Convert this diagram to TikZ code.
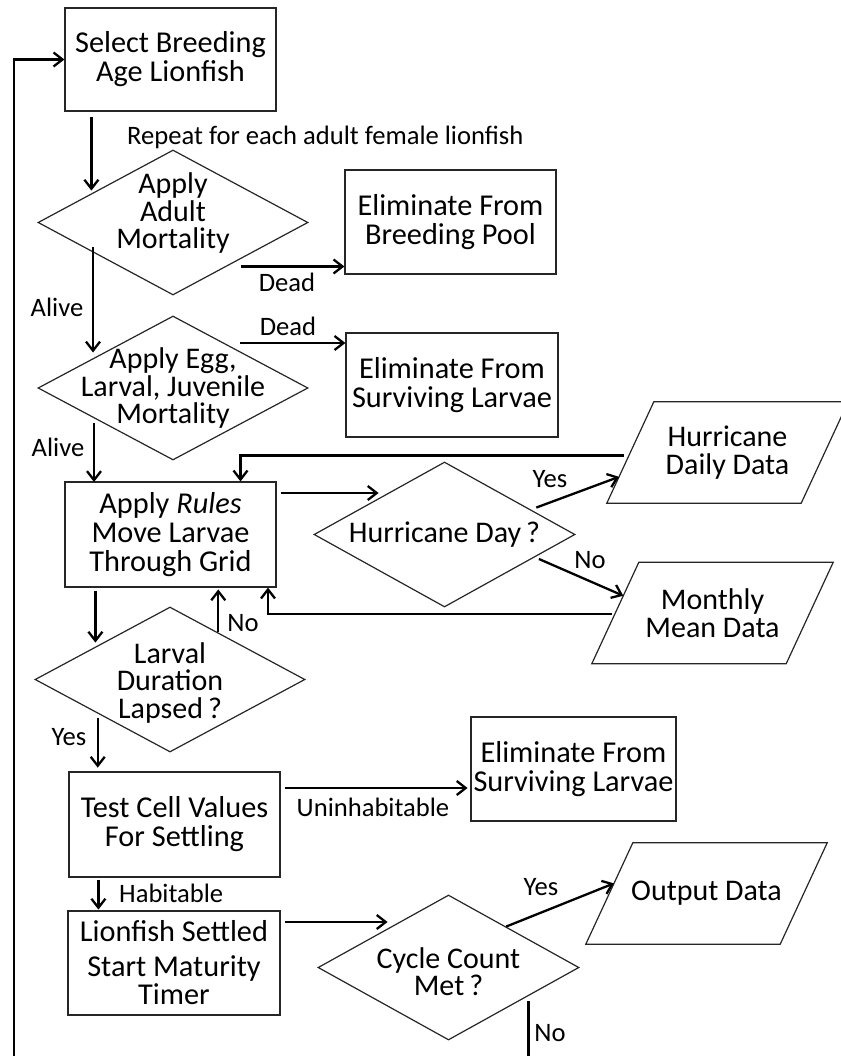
\documentclass[tikz,border=0pt]{standalone}
\usepackage{fontspec}
\setmainfont{Carlito}
\usetikzlibrary{shapes.geometric,arrows.meta,calc}
\newcommand\mainf{\fontsize{30.3pt}{29pt}\selectfont}
\newcommand\diaf{\fontsize{30pt}{27.5pt}\selectfont}
\newcommand\lblf{\fontsize{26.6pt}{28pt}\selectfont}
\begin{document}
\begin{tikzpicture}[x=1pt,y=-1pt,
  boxn/.style={draw=black!85, line width=1.2pt, rectangle, inner sep=0pt, align=center, font=\mainf},
  dian/.style={draw=black!85, line width=1.2pt, diamond, inner sep=0pt},
  paran/.style={rectangle, minimum width=194pt, minimum height=101pt, inner sep=0pt, align=center, font=\diaf},
  pline/.style={draw=black!85, line width=1.2pt},
  txt/.style={align=center, font=\diaf, inner sep=0pt},
  lbl/.style={font=\lblf, inner sep=0pt},
  arr/.style={line width=2.3pt, -{Straight Barb[length=9pt,width=14pt,line width=2.3pt]}}]
\useasboundingbox[fill=white] (0,0) rectangle (840,1056);

% boxes
\node[boxn, minimum width=211pt, minimum height=103pt] (b1) at (170.5,59.5) {Select Breeding\\Age Lionfish};
\node[boxn, minimum width=211pt, minimum height=104pt] (e1) at (450.5,222) {Eliminate From\\Breeding Pool};
\node[boxn, minimum width=212pt, minimum height=104pt] (e2) at (452,385) {Eliminate From\\Surviving Larvae};
\node[boxn, minimum width=211pt, minimum height=105pt] (b3) at (170.5,534.5) {Apply \textit{Rules}\\Move Larvae\\Through Grid};
\node[boxn, minimum width=211pt, minimum height=105pt] (b4) at (174.5,824.5) {Test Cell Values\\For Settling};
\node[boxn, minimum width=205pt, minimum height=104pt] (e3) at (573.5,769) {Eliminate From\\Surviving Larvae};
\node[boxn, minimum width=212pt, minimum height=104pt] (b5) at (174,963) {Lionfish Settled\\[6pt]Start Maturity\\[-1pt]Timer};

% diamonds
\node[dian, minimum width=270pt, minimum height=145pt, label={[txt,yshift=9pt]center:{Apply\\Adult\\Mortality}}] (d1) at (173,222.5) {};
\node[dian, minimum width=270pt, minimum height=144pt, label={[txt]center:{Apply Egg,\\Larval, Juvenile\\Mortality}}] (d2) at (173,388) {};
\node[dian, minimum width=261pt, minimum height=145pt, label={[txt]center:{Hurricane Day\,?}}] (d3) at (444.5,534.5) {};
\node[dian, minimum width=270pt, minimum height=145pt, label={[txt,yshift=-3pt]center:{Larval\\Duration\\Lapsed\,?}}] (d4) at (170,679.5) {};
\node[dian, minimum width=261pt, minimum height=145pt, label={[txt,yshift=-4pt]center:{Cycle Count\\Met\,?}}] (d5) at (448.5,967.5) {};

% parallelograms (text node + slanted outline)
\foreach \n/\x/\y/\t in {hd/727.5/452.5/{Hurricane\\Daily Data}, mm/712.5/613/{Monthly\\Mean Data}, od/706.5/893.5/{Output Data}}{
  \node[paran] (\n) at (\x,\y) {\t};
  \coordinate (\n bl) at ([xshift=-23.5pt]\n.south west);
  \coordinate (\n br) at ([xshift=-23.5pt]\n.south east);
  \coordinate (\n tr) at ([xshift=23.5pt]\n.north east);
  \coordinate (\n tl) at ([xshift=23.5pt]\n.north west);
  \draw[pline] (\n bl) -- (\n br) -- (\n tr) -- (\n tl) -- cycle;
}

% labels
\node[lbl, anchor=west] (rep) at (127,137) {Repeat for each adult female lionfish};
\node[lbl] (dead1) at (287,282) {Dead};
\node[lbl] (alive1) at (57,307) {Alive};
\node[lbl] (dead2) at (288,326) {Dead};
\node[lbl] (alive2) at (58,447) {Alive};
\node[lbl] (yes1) at (550,479) {Yes};
\node[lbl] (no1) at (590,560) {No};
\node[lbl] (no2) at (243,623) {No};
\node[lbl] (yes2) at (69,737) {Yes};
\node[lbl] (uninh) at (373,807) {Uninhabitable};
\node[lbl, anchor=west] (hab) at (119,893) {Habitable};
\node[lbl] (yes3) at (541,887) {Yes};
\node[lbl] (no3) at (550,1033) {No};

% connectors
\coordinate (lb) at (14,1080);
\draw[arr] ($(d5.east)!0.39!(d5.south)+(0,5)$) |- (lb) |- (b1.west);
\draw[arr] ([shift={(27,5)}]b1.south west) -- ++(0,74);
\draw[arr] ([shift={(-68,44)}]d1.east) -- ([shift={(0,44)}]d1.east -| e1.west);
\draw[arr] ([shift={(-80,25)}]d1.center) -- ++(0,105);
\draw[arr] ([shift={(67,-45)}]d2.center) -- ([shift={(0,-45)}]d2.center -| e2.west);
\draw[arr] ([shift={(-79,35)}]d2.center) -- ++(0,59);
\draw[arr] ($(hdbl)!0.47!(hdtl)+(-5,0)$) -| ([xshift=70pt]b3.north);
\draw[arr] ([shift={(4,-41.5)}]b3.east) -- ++(98,0);
\draw[arr] ($(d3.east)!0.3!(d3.north)+(0,-5)$) -- ($(hdbl)!0.26!(hdtl)$);
\draw[arr] ($(d3.east)!0.28!(d3.south)+(0,4)$) -- ($(mmbl)!0.67!(mmtl)$);
\draw[arr] ($(mmbl)!0.49!(mmtl)+(-3,0)$) -| ([xshift=97.5pt]b3.south);
\draw[arr] ([shift={(31,3)}]b3.south west) -- ++(0,52);
\draw[arr] ($(d4.north)!0.356!(d4.east)$) -- ++(0,-43);
\draw[arr] ($(d4.west)!0.467!(d4.south)+(0,4)$) -- ++(0,50);
\draw[arr] ([shift={(4,-36.5)}]b4.east) -- ++(183,0);
\draw[arr] ([shift={(30,2)}]b4.south west) -- ++(0,30);
\draw[arr] ([shift={(4,-41)}]b5.east) -- ++(103,0);
\draw[arr] ($(d5.north)!0.44!(d5.east)$) -- ($(odbl)!0.6!(odtl)$);
\end{tikzpicture}
\end{document}
